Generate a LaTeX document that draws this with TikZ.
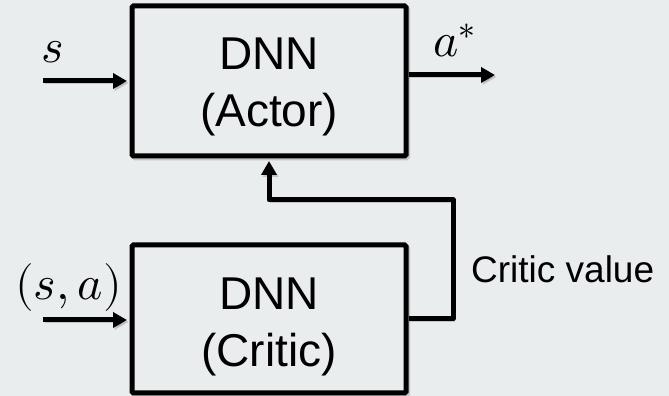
\documentclass[tikz,border=0pt]{standalone}
\usepackage{fontspec}
\usepackage{unicode-math}
\setmainfont{Liberation Sans}
\setmathfont{Latin Modern Math}
\usetikzlibrary{arrows.meta,calc}

\definecolor{bgcol}{RGB}{233,237,238}

\tikzset{
  x=1pt, y=1pt,
  softshadow/.style={preaction={draw=black, opacity=0.16,
      transform canvas={shift={(1.6pt,-2pt)}}}},
  netbox/.style={draw, line width=5pt, rounded corners=1.5pt, fill=bgcol,
      minimum width=274pt, inner sep=0pt, softshadow},
  boxlabel/.style={align=center, inner sep=0pt,
      font=\fontsize{46}{57}\selectfont},
  mathlabel/.style={inner sep=0pt, font=\fontsize{48}{56}\selectfont},
  flow/.style={line width=5pt, line join=round,
      -{Triangle[length=14pt,width=15pt]}, softshadow},
}

\begin{document}
\begin{tikzpicture}
  % canvas
  \fill[bgcol] (0,0) rectangle (669,396);
  \useasboundingbox (0,0) rectangle (669,396);

  % the two networks
  \node[netbox, minimum height=150pt] (actor) at (269,315) {};
  \node[netbox, minimum height=148pt] (critic) at (269,77) {};
  \node[boxlabel] (actorlabel) at (269,309.5) {DNN\\(Actor)};
  \node[boxlabel] (criticlabel) at (269,69.5) {DNN\\(Critic)};

  % loose ends of the signal lines
  \coordinate (sin) at (43,315);
  \coordinate (aout) at (495,321);
  \coordinate (sain) at (43,76);
  \coordinate (fbr) at (453,196);

  % signals
  \draw[flow, shorten >=2.5pt] (sin) -- (actor.west);
  \draw[flow] (actor.east |- aout) -- (aout);
  \draw[flow, shorten >=2.5pt] (sain) -- (critic.west |- sain);
  \draw[flow, shorten >=2.5pt] (critic.east) -| (fbr) -| (actor.south);

  % labels
  \node[mathlabel, anchor=base] (slab) at (53,333) {$s$};
  \node[mathlabel, anchor=base west] (alab) at (433,339) {$a^{*}$};
  \node[mathlabel, anchor=base] (salab) at (68.5,96) {$(s,a)$};
  \node[inner sep=0pt, anchor=base west, font=\fontsize{37}{44}\selectfont]
    (cvlab) at (471,113) {Critic value};
\end{tikzpicture}
\end{document}
